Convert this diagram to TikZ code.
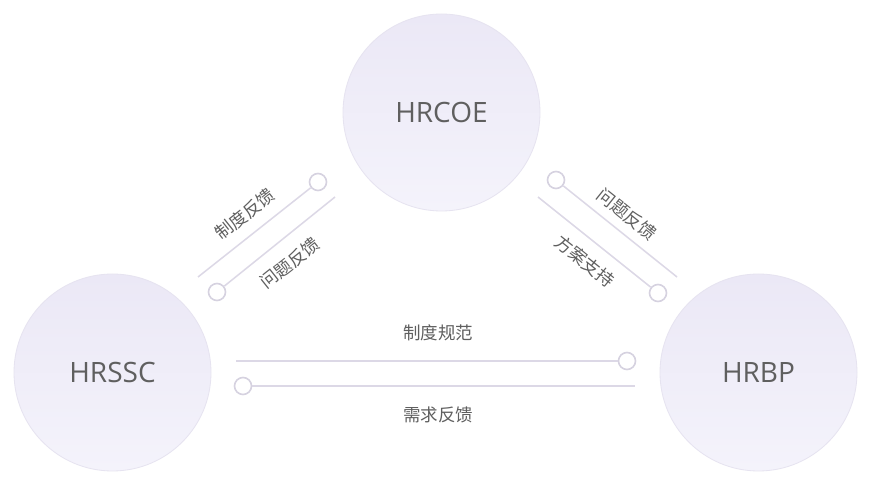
\documentclass[tikz,border=0pt]{standalone}
\usepackage{fontspec}
\setmainfont{Open Sans}
\newfontfamily\cjk{Noto Sans CJK SC}
\definecolor{ctop}{RGB}{235,232,246}
\definecolor{cbot}{RGB}{244,243,251}
\definecolor{cedge}{RGB}{230,227,240}
\definecolor{lcol}{RGB}{220,216,230}
\definecolor{dcol}{RGB}{214,210,224}
\definecolor{tcol}{RGB}{95,95,95}
\begin{document}
\begin{tikzpicture}[x=1pt,y=-1pt,
  bigc/.style={circle, minimum size=197pt, inner sep=0pt, draw=cedge, line width=0.8pt,
    top color=ctop, bottom color=cbot, text=tcol, font=\fontsize{28}{30}\selectfont},
  dot/.style={circle, minimum size=17pt, inner sep=0pt, draw=dcol, line width=1.6pt, fill=white},
  conn/.style={draw=lcol, line width=1.5pt},
  lbl/.style={text=tcol, font=\cjk\fontsize{17.5}{19}\selectfont, inner sep=0pt}]
\useasboundingbox[fill=white] (0,0) rectangle (871,486);

\node[bigc] (hrcoe) at (441.5,112.5) {HRCOE};
\node[bigc] (hrssc) at (112.5,372.5) {HRSSC};
\node[bigc] (hrbp) at (758.5,372.5) {HRBP};

% left diagonal pair
\coordinate (la1) at (198,277);
\node[dot] (ld1) at (318,182) {};
\draw[conn] (la1) -- (ld1);
\node[dot] (ld2) at (217,292) {};
\coordinate (la2) at (335,197);
\draw[conn] (ld2) -- (la2);
\node[lbl, rotate=38.4] (l1) at (245,214) {制度反馈};
\node[lbl, rotate=38.4] (l2) at (290,263) {问题反馈};

% right diagonal pair
\node[dot] (rd1) at (556,180) {};
\coordinate (ra1) at (677,277);
\draw[conn] (rd1) -- (ra1);
\coordinate (ra2) at (538,197);
\node[dot] (rd2) at (658,293) {};
\draw[conn] (ra2) -- (rd2);
\node[lbl, rotate=-38.7] (r1) at (627,214) {问题反馈};
\node[lbl, rotate=-38.7] (r2) at (585,261) {方案支持};

% horizontal pair
\coordinate (ha1) at (236,361);
\node[dot] (hd1) at (627,361) {};
\draw[conn] (ha1) -- (hd1);
\node[dot] (hd2) at (243,386) {};
\coordinate (ha2) at (635,386);
\draw[conn] (hd2) -- (ha2);
\node[lbl] (h1) at (438,333) {制度规范};
\node[lbl] (h2) at (438,415) {需求反馈};
\end{tikzpicture}
\end{document}
